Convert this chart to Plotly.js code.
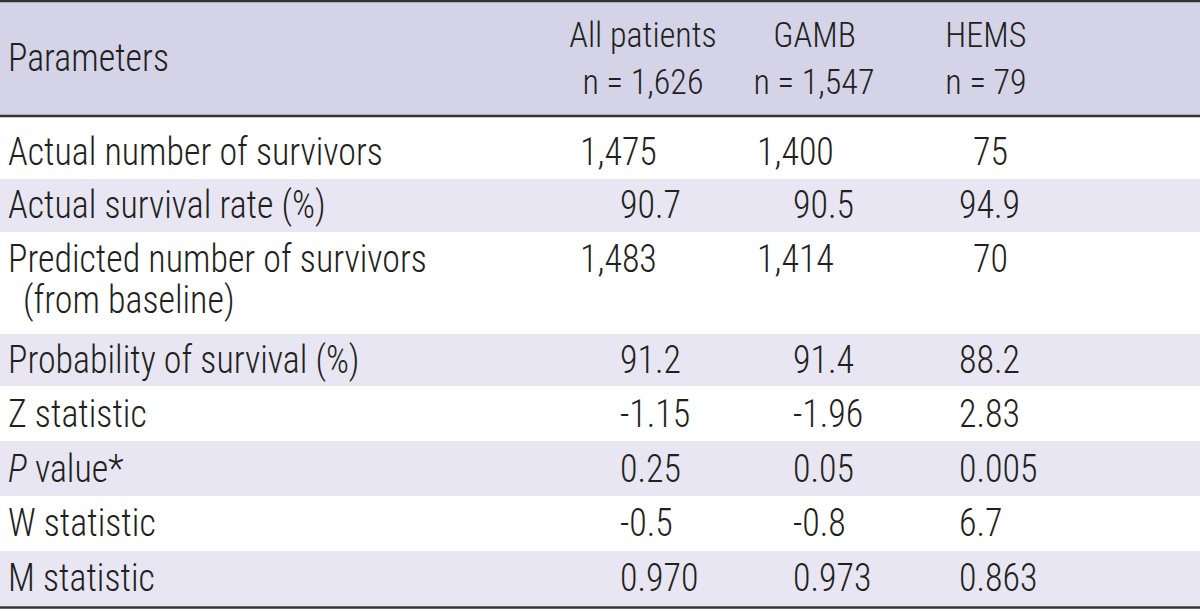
<!DOCTYPE html>
<html>
<head>
<meta charset="utf-8">
<script src="https://cdn.plot.ly/plotly-3.0.1.min.js"></script>
<style>html,body{margin:0;padding:0;background:#fff;}#chart{width:1200px;height:612px;}</style>
</head>
<body>
<div id="chart"></div>
<script>
// ---- data ----
const firstHeader = "Parameters";
const groupNames = ["All patients", "GAMB", "HEMS"];
const groupSizes = ["n = 1,626", "n = 1,547", "n = 79"];
const parameters = [
  "Actual number of survivors",
  "Actual survival rate (%)",
  "Predicted number of survivors",
  "Probability of survival (%)",
  "Z statistic",
  "<i>P</i> value*",
  "W statistic",
  "M statistic"
];
const parameterNotes = ["", "", "(from baseline)", "", "", "", "", ""];
const allPatients = ["1,475", "90.7", "1,483", "91.2", "-1.15", "0.25", "-0.5", "0.970"];
const gamb        = ["1,400", "90.5", "1,414", "91.4", "-1.96", "0.05", "-0.8", "0.973"];
const hems        = ["75", "94.9", "70", "88.2", "2.83", "0.005", "6.7", "0.863"];

// ---- font selection (prefer a condensed face) ----
const FS = 38, FS_HEAD = 36, WEIGHT = 300;
const candidates = ["Liberation Sans Narrow", "Arial Narrow", "Roboto Condensed", "Noto Sans Condensed", "Open Sans Condensed", "Liberation Sans"];
const cv = document.createElement("canvas").getContext("2d");
function measure(fam, s, w) { cv.font = (w || 400) + " " + FS + "px " + fam; return cv.measureText(s).width; }
const probe = "Actual number of survivors";
function hasFont(name) {
  const a = measure("'" + name + "', monospace", probe), b = measure("monospace", probe);
  const c = measure("'" + name + "', serif", probe), d = measure("serif", probe);
  return Math.abs(a - b) > 0.5 || Math.abs(c - d) > 0.5;
}
const chosen = candidates.find(hasFont) || "sans-serif";
const famCss = "'" + chosen + "', sans-serif";
const targetWidth = 375;  // measured width of the probe string in the reference
const sx = targetWidth / measure(famCss, probe, WEIGHT);

// ---- layout helpers (positions only) ----
const W = 1200, H = 612;
const rowTop    = [117, 179, 232, 334, 386, 441, 496, 551];
const rowBottom = [179, 232, 334, 386, 441, 496, 551, 606];
const textY     = [152, 205, 259, 360, 414, 469, 523, 578];
const noteY     = 300;
const leftX = 8, noteX = 23;
const headerCenterX = [643, 814, 986];
const headerLineY = [35, 82];
const colLeftInt = [580, 757, 973];
const colLeftDec = [620, 793, 959];
const font = {family: famCss, size: FS, color: "#231f20", weight: WEIGHT};
const headFont = {family: famCss, size: FS_HEAD, color: "#231f20", weight: WEIGHT};
const headerFill = "#d4d3e8", stripeFill = "#e7e6f2", lineColor = "#333333";

const shapes = [];
const annotations = [];

shapes.push({type: "rect", xref: "x", yref: "y", x0: 0, x1: W, y0: 1, y1: 116, fillcolor: headerFill, line: {width: 0}, layer: "below"});
rowTop.forEach((t, i) => {
  if (i % 2 === 1) shapes.push({type: "rect", xref: "x", yref: "y", x0: 0, x1: W, y0: t, y1: rowBottom[i], fillcolor: stripeFill, line: {width: 0}, layer: "below"});
});
[1, 116, 607.5].forEach(y => shapes.push({type: "line", xref: "x", yref: "y", x0: 0, x1: W, y0: y, y1: y, line: {color: lineColor, width: 2.5}}));

const anchors = [];
function ann(text, x, y, xanchor, f) {
  anchors.push(xanchor);
  annotations.push({text: text, x: x, y: y, xref: "x", yref: "y", xanchor: xanchor, yanchor: "middle",
    showarrow: false, font: f || font, align: xanchor === "center" ? "center" : "left", borderpad: 0, borderwidth: 0});
}

ann(firstHeader, leftX, 58, "left");
groupNames.forEach((g, c) => {
  ann(g, headerCenterX[c], headerLineY[0], "center", headFont);
  ann(groupSizes[c], headerCenterX[c], headerLineY[1], "center", headFont);
});

const cols = [allPatients, gamb, hems];
parameters.forEach((p, i) => {
  ann(p, leftX, textY[i], "left");
  if (parameterNotes[i]) ann(parameterNotes[i], noteX, noteY, "left");
  cols.forEach((col, c) => {
    const v = col[i];
    const x = v.indexOf(".") >= 0 ? colLeftDec[c] : colLeftInt[c];
    ann(v, x, textY[i], "left");
  });
});

const layout = {
  width: W, height: H,
  margin: {l: 0, r: 0, t: 0, b: 0, pad: 0},
  paper_bgcolor: "#ffffff", plot_bgcolor: "#ffffff",
  xaxis: {range: [0, W], visible: false, fixedrange: true},
  yaxis: {range: [H, 0], visible: false, fixedrange: true},
  showlegend: false,
  shapes: shapes,
  annotations: annotations
};
Plotly.newPlot("chart", [{type: "scatter", x: [], y: [], mode: "markers", hoverinfo: "skip"}], layout, {displayModeBar: false, staticPlot: true})
.then(gd => {
  if (Math.abs(sx - 1) < 0.01) return;
  gd.querySelectorAll(".annotation").forEach((g, i) => {
    const t = g.querySelector("text.annotation-text");
    if (!t) return;
    t.style.transformBox = "fill-box";
    t.style.transformOrigin = anchors[i] === "center" ? "center center" : "left center";
    t.style.transform = "scale(" + sx + ",1)";
  });
});
</script>
</body>
</html>
